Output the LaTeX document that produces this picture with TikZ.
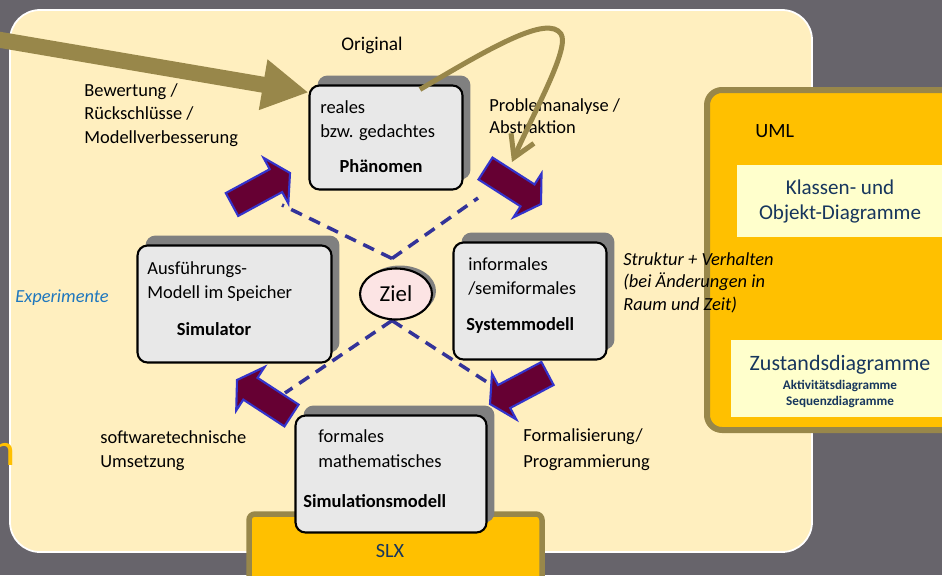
\documentclass[tikz,border=0pt]{standalone}
\usepackage{fontspec}
\setmainfont{Carlito}
\usetikzlibrary{calc,shapes.geometric,shadows,arrows.meta}

\definecolor{hintergrund}{RGB}{103,100,107}
\definecolor{creme}{RGB}{255,239,191}
\definecolor{oliv}{RGB}{152,135,74}
\definecolor{boxgrau}{RGB}{232,232,232}
\definecolor{schatten}{RGB}{128,128,128}
\definecolor{bordeaux}{RGB}{102,0,51}
\definecolor{pfeilblau}{RGB}{51,51,204}
\definecolor{strichblau}{RGB}{51,51,153}
\definecolor{zielrosa}{RGB}{252,228,228}
\definecolor{umlgelb}{RGB}{255,192,0}
\definecolor{hellgelb}{RGB}{255,255,204}
\definecolor{marine}{RGB}{23,54,93}
\definecolor{expblau}{RGB}{31,119,190}

\pgfdeclarelayer{hinten}
\pgfdeclarelayer{mitte}
\pgfsetlayers{hinten,mitte,main}

\tikzset{
	modell/.style={draw=black, line width=1.2pt, fill=boxgrau, rounded corners=0.2cm, inner sep=0pt,
		drop shadow={shadow xshift=0.16cm, shadow yshift=0.2cm, fill=schatten, opacity=1}},
	zielform/.style={ellipse, draw=black, line width=1.2pt, fill=zielrosa, inner sep=0pt,
		minimum width=1.44cm, minimum height=1.02cm, font=\fontsize{13}{15}\selectfont,
		drop shadow={shadow xshift=0.08cm, shadow yshift=0.06cm, fill=schatten, opacity=1}},
	strich/.style={strichblau, line width=2pt, dash pattern=on 6.8pt off 4.6pt},
	blockpfeilstil/.style={fill=bordeaux, draw=pfeilblau, line width=1.2pt, line join=miter},
	txt/.style={inner sep=0pt, anchor=base west, align=left, font=\fontsize{10.5}{13.2}\selectfont},
	fett/.style={txt, font=\fontsize{10.5}{13.2}\selectfont\bfseries},
	umlbox/.style={draw=oliv, fill=umlgelb, rounded corners=0.3cm}
}

% Blockpfeil von #1 (Ende) nach #2 (Spitze)
\newcommand{\blockpfeil}[2]{%
	\coordinate (bp-b) at ($(#2)!0.32cm!(#1)$);
	\filldraw[blockpfeilstil] ($(#1)!0.26cm!90:(#2)$) -- ($(bp-b)!0.26cm!90:(#2)$)
		-- ($(bp-b)!0.52cm!90:(#2)$) -- (#2) -- ($(bp-b)!0.52cm!-90:(#2)$)
		-- ($(bp-b)!0.26cm!-90:(#2)$) -- ($(#1)!0.26cm!-90:(#2)$) -- cycle;
}

\begin{document}
\begin{tikzpicture}[x=0.02cm, y=-0.02cm]
	\useasboundingbox (0,0) rectangle (942,575);
	\begin{pgfonlayer}{hinten}
		\fill[hintergrund] (0,0) rectangle (942,575);
		
		% --- Hintergrundfläche ---
		\draw[white, line width=1pt, fill=creme, rounded corners=0.6cm] (10,10) rectangle (812,552);
		
		% --- UML und SLX ---
		\draw[umlbox, line width=0.12cm] (707,90) rectangle (990,430);
		\fill[hellgelb] (737,165) rectangle (950,237);
		\fill[hellgelb] (731,340) rectangle (950,417);
		\draw[umlbox, line width=0.11cm, rounded corners=0.12cm] (249,514) rectangle (542,620);
	\end{pgfonlayer}
	
	\node[inner sep=0pt, anchor=base east, text=umlgelb, font=\fontsize{26}{30}\selectfont] (rest) at (16,465) {n};
	\node[txt, font=\fontsize{11.5}{14}\selectfont] (uml) at (755,137) {UML};
	\node[inner sep=0pt, anchor=base, align=center, text=marine, font=\fontsize{12}{13.8}\selectfont] (klassen) at (840,219) {Klassen- und\\Objekt-Diagramme};
	\node[inner sep=0pt, anchor=base, text=marine, font=\fontsize{12.5}{15}\selectfont] (zustand) at (840,370) {Zustandsdiagramme};
	\node[inner sep=0pt, anchor=base, text=marine, font=\fontsize{7.5}{9}\selectfont\bfseries] (akt) at (840,389) {Aktivitätsdiagramme};
	\node[inner sep=0pt, anchor=base, text=marine, font=\fontsize{7.5}{9}\selectfont\bfseries] (seq) at (840,405) {Sequenzdiagramme};
	\node[inner sep=0pt, anchor=base, text=marine, font=\fontsize{11.5}{14}\selectfont] (slx) at (390,557) {SLX};
	
	% --- Ziel mit gestrichelten Linien ---
	\node[zielform] (ziel) at (396,294) {Ziel};
	\coordinate (zo) at ([xshift=-0.08cm, yshift=0.18cm]ziel.north);
	\coordinate (zu) at ([xshift=-0.08cm]ziel.south);
	\coordinate (zl1) at (282,205);
	\coordinate (zr1) at (478,198);
	\coordinate (zl2) at (285,393);
	\coordinate (zr2) at (490,384);
	\begin{pgfonlayer}{mitte}
		\draw[strich] (zo) -- (zl1);
		\draw[strich] (zo) -- (zr1);
		\draw[strich] (zu) -- (zl2);
		\draw[strich] (zu) -- (zr2);
	\end{pgfonlayer}
	
	% --- Modellkästen ---
	\node[modell, minimum width=3.06cm, minimum height=2.08cm] (phaen) at (386,137.5) {};
	\node[modell, minimum width=3.88cm, minimum height=2.34cm] (sim) at (234.5,304) {};
	\node[modell, minimum width=3.06cm, minimum height=2.34cm] (sys) at (530,301) {};
	\node[modell, minimum width=3.82cm, minimum height=2.34cm] (simmod) at (391,474) {};
	
	\node[txt] (phaen-t) at (320,137) {reales\\bzw. gedachtes};
	\node[fett, anchor=base] (phaen-b) at (381,172) {Phänomen};
	\node[txt] (sim-t) at (147,298) {Ausführungs-\\Modell im Speicher};
	\node[fett, anchor=base] (sim-b) at (214,335) {Simulator};
	\node[txt] (sys-t) at (468,294) {informales\\/semiformales};
	\node[fett] (sys-b) at (466,330) {Systemmodell};
	\node[txt, font=\fontsize{10.5}{14}\selectfont] (simmod-t) at (318,467) {formales\\mathematisches};
	\node[fett] (simmod-b) at (303,507) {Simulationsmodell};
	
	% --- Blockpfeile im Kreis ---
	\coordinate (p1a) at (232,204.5);   \coordinate (p1b) at (290,173);
	\coordinate (p2a) at (485.5,168.5); \coordinate (p2b) at (541,204);
	\coordinate (p3a) at (547.5,373.5); \coordinate (p3b) at (490,404);
	\coordinate (p4a) at (291.5,415.5); \coordinate (p4b) at (237,380);
	\foreach \a/\b in {p1a/p1b, p2a/p2b, p3a/p3b, p4a/p4b} {
		\blockpfeil{\a}{\b}
	}
	
	% --- Beschriftungen ---
	\node[inner sep=0pt, anchor=base, font=\fontsize{11}{13}\selectfont] (orig) at (372,50) {Original};
	\node[txt, font=\fontsize{10.5}{13.1}\selectfont] (bew) at (84,143) {Bewertung /\\Rückschlüsse /\\Modellverbesserung};
	\node[txt, font=\fontsize{10.5}{12}\selectfont] (prob) at (489,133) {Problemanalyse /\\Abstraktion};
	\node[txt, font=\fontsize{10.5}{12.8}\selectfont\itshape] (struk) at (623,310) {Struktur + Verhalten\\(bei Änderungen in\\Raum und Zeit)};
	\node[txt, text=expblau, font=\fontsize{10.5}{13}\selectfont\itshape] (exp) at (15,302) {Experimente};
	\node[txt] (soft) at (100,467) {softwaretechnische\\Umsetzung};
	\node[txt, font=\fontsize{10.5}{14.5}\selectfont] (form) at (523,467) {Formalisierung/\\Programmierung};
	
	% --- Olivfarbene Pfeile ---
	\coordinate (rueck) at (-5,39);
	\draw[oliv, line width=0.32cm, -{Triangle[width=0.96cm, length=0.92cm]}] (rueck) -- ([yshift=-0.16cm]phaen.north west);
	
	\coordinate (abstr) at (512,162);
	\draw[oliv, line width=0.1cm, -{Straight Barb[length=0.42cm, width=0.5cm]}]
		([xshift=0.68cm, yshift=-0.1cm]phaen.north) .. controls (490,48) and (548,14) .. (561,34)
		.. controls (570,48) and (535,110) .. (abstr);
\end{tikzpicture}
\end{document}
